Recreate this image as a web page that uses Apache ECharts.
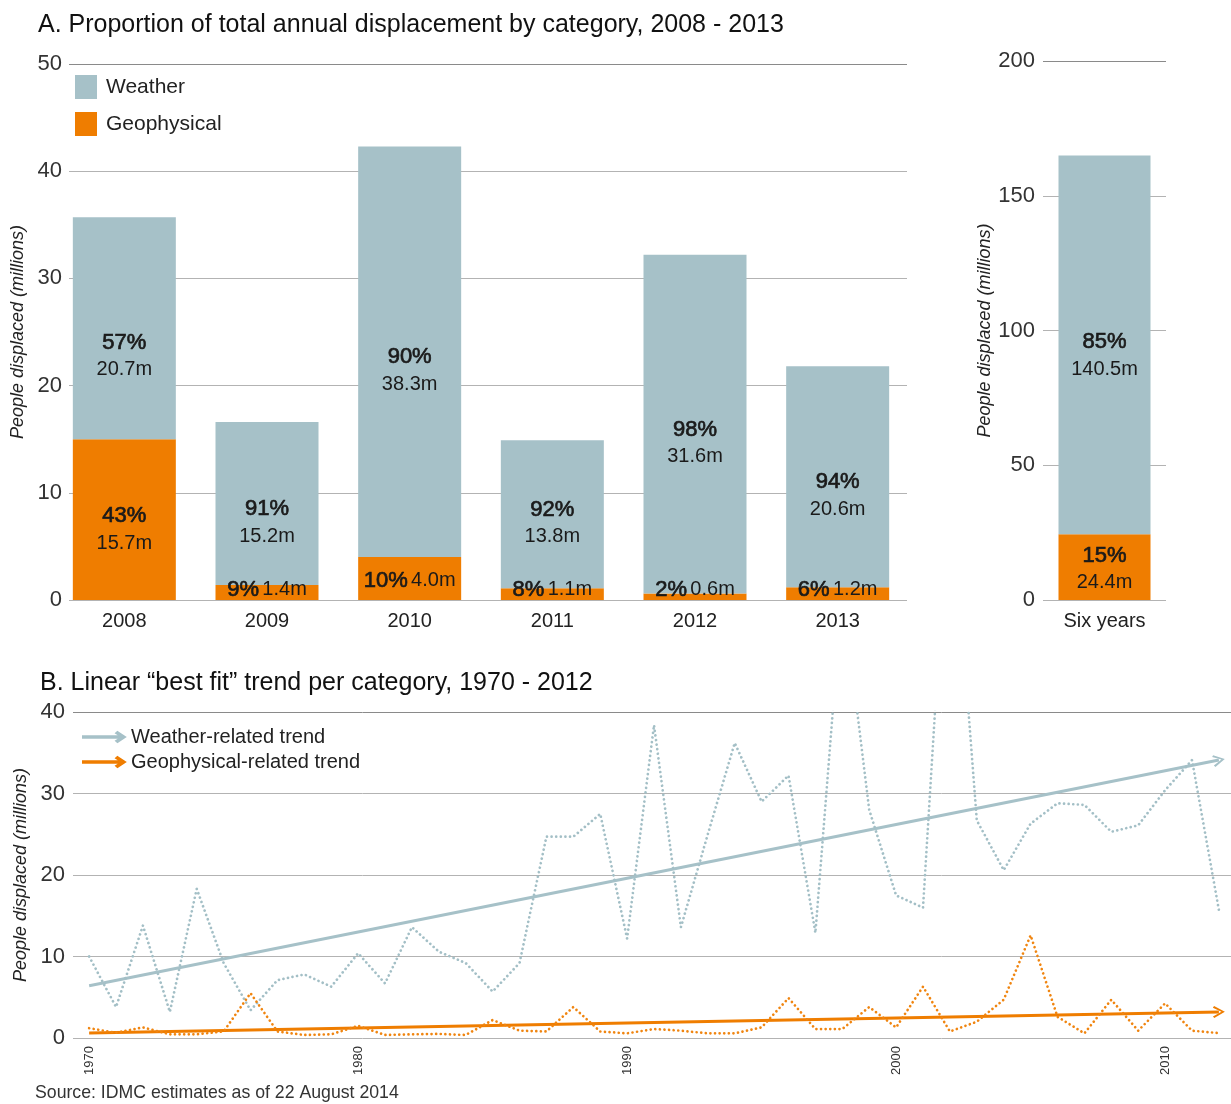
<!DOCTYPE html>
<html>
<head>
<meta charset="utf-8">
<script src="https://cdn.jsdelivr.net/npm/echarts@6/dist/echarts.min.js"></script>
<style>
html,body{margin:0;padding:0;background:#fff;}
#chart{width:1231px;height:1104px;}
</style>
</head>
<body>
<div id="chart"></div>
<script>
// ---------- Panel A data ----------
const yearsA = ['2008', '2009', '2010', '2011', '2012', '2013'];
const weatherA = [20.7, 15.2, 38.3, 13.8, 31.6, 20.6];
const geoA = [15.0, 1.4, 4.0, 1.1, 0.6, 1.2];
const weatherPctA = ['57%', '91%', '90%', '92%', '98%', '94%'];
const weatherAmtA = ['20.7m', '15.2m', '38.3m', '13.8m', '31.6m', '20.6m'];
const geoPctA = ['43%', '9%', '10%', '8%', '2%', '6%'];
const geoAmtA = ['15.7m', '1.4m', '4.0m', '1.1m', '0.6m', '1.2m'];

// ---------- Six-year totals ----------
const sixCategory = ['Six years'];
const weatherSix = [140.5];
const geoSix = [24.4];
const weatherSixPct = ['85%'];
const weatherSixAmt = ['140.5m'];
const geoSixPct = ['15%'];
const geoSixAmt = ['24.4m'];

// ---------- Panel B data ----------
const yearsB = [1970, 1971, 1972, 1973, 1974, 1975, 1976, 1977, 1978, 1979,
  1980, 1981, 1982, 1983, 1984, 1985, 1986, 1987, 1988, 1989,
  1990, 1991, 1992, 1993, 1994, 1995, 1996, 1997, 1998, 1999,
  2000, 2001, 2002, 2003, 2004, 2005, 2006, 2007, 2008, 2009,
  2010, 2011, 2012];
const weatherB = [10.0, 3.8, 13.8, 3.2, 18.3, 9.2, 3.4, 7.1, 7.8, 6.3,
  10.4, 6.7, 13.6, 10.6, 9.2, 5.7, 9.2, 24.7, 24.7, 27.5,
  12.2, 38.4, 13.6, 25.0, 36.2, 29.0, 32.2, 12.9, 55.0, 28.0,
  17.5, 16.0, 70.0, 26.7, 20.6, 26.3, 28.8, 28.6, 25.3, 26.1,
  30.4, 34.1, 15.7];
const geoB = [1.2, 0.65, 1.3, 0.45, 0.45, 0.8, 5.5, 0.8, 0.37, 0.45,
  1.5, 0.37, 0.45, 0.5, 0.37, 2.2, 0.9, 0.8, 3.8, 0.8,
  0.57, 1.1, 0.9, 0.57, 0.57, 1.3, 4.9, 1.1, 1.1, 3.8,
  1.3, 6.3, 0.8, 2.0, 4.7, 12.6, 2.6, 0.57, 4.7, 0.9,
  4.25, 0.9, 0.6];
const weatherTrend = [[1970, 6.4], [2012, 34.1]];
const geoTrend = [[1970, 0.6], [2012, 3.2]];
const tickYearsB = [1970, 1980, 1990, 2000, 2010];

// ---------- styles / layout (not data) ----------
const FONT = 'Liberation Sans';
const C_WEATHER = '#a6c1c8';
const C_GEO = '#ef7d00';
const C_TEXT = '#1a1a1a';
const GRID_COLOR = '#b3b3b3';
const TOP_GRID_COLOR = '#8a8a8a';
const weatherLabelNudgeA = [9, 0, 0, -10, 0, 0];

const rich = {
  p: { fontFamily: FONT, fontSize: 22, color: C_TEXT, textBorderColor: C_TEXT, textBorderWidth: 0.7, lineHeight: 27 },
  m: { fontFamily: FONT, fontSize: 20, color: C_TEXT, lineHeight: 27 }
};

function twoLine(p, m) { return '{p|' + p + '}\n{m|' + m + '}'; }
function oneLine(p, m) { return '{p|' + p + '} {m|' + m + '}'; }

const weatherAData = weatherA.map(function (v, i) {
  return { value: v, label: { show: true, position: 'inside', offset: [0, 19 + weatherLabelNudgeA[i]], rich: rich,
    formatter: twoLine(weatherPctA[i], weatherAmtA[i]) } };
});
const geoAData = geoA.map(function (v, i) {
  let lab;
  if (v >= 10) {
    lab = { show: true, position: 'inside', offset: [0, 10], rich: rich, formatter: twoLine(geoPctA[i], geoAmtA[i]) };
  } else if (v >= 3) {
    lab = { show: true, position: 'inside', offset: [0, 2], rich: rich, formatter: oneLine(geoPctA[i], geoAmtA[i]) };
  } else {
    lab = { show: true, position: 'insideBottom', distance: 1, offset: [0, 4], rich: rich, formatter: oneLine(geoPctA[i], geoAmtA[i]) };
  }
  return { value: v, label: lab };
});
const weatherSixData = weatherSix.map(function (v, i) {
  return { value: v, label: { show: true, position: 'inside', offset: [0, 11], rich: rich,
    formatter: twoLine(weatherSixPct[i], weatherSixAmt[i]) } };
});
const geoSixData = geoSix.map(function (v, i) {
  return { value: v, label: { show: true, position: 'inside', offset: [0, 2], rich: rich,
    formatter: twoLine(geoSixPct[i], geoSixAmt[i]) } };
});

const axisNameStyle = { fontFamily: FONT, fontSize: 18, fontStyle: 'italic', color: '#222' };
const axisLabelStyle = { fontFamily: FONT, fontSize: 22, color: '#333' };

function splitColors(n) {
  const arr = [];
  for (let i = 0; i < n; i++) arr.push(i === n - 1 ? TOP_GRID_COLOR : GRID_COLOR);
  return arr;
}

const arrowPath = 'path://M0,10 L6,0 L12,10 L10.4,11.2 L6,3.2 L1.6,11.2 Z';
const legendArrow = 'path://M0,4.2 L40,4.2 L40,5.8 L0,5.8 Z M34.5,0 L42,5 L34.5,10 L33.2,8.8 L39.2,5 L33.2,1.2 Z';

const chart = echarts.init(document.getElementById('chart'), null, { renderer: 'canvas' });

const option = {
  animation: false,
  backgroundColor: '#fff',
  textStyle: { fontFamily: FONT },
  title: [
    { text: 'A. Proportion of total annual displacement by category, 2008 - 2013', left: 38, top: 13, padding: 0,
      textStyle: { fontFamily: FONT, fontSize: 25, fontWeight: 'normal', color: '#111' } },
    { text: 'B. Linear \u201cbest fit\u201d trend per category, 1970 - 2012', left: 40, top: 671, padding: 0,
      textStyle: { fontFamily: FONT, fontSize: 25, fontWeight: 'normal', color: '#111' } }
  ],
  legend: [
    { data: ['Weather', 'Geophysical'], orient: 'vertical', left: 75, top: 75, padding: 0,
      itemWidth: 22, itemHeight: 24, itemGap: 13, icon: 'rect',
      textStyle: { fontFamily: FONT, fontSize: 21, color: '#222', padding: [2, 0, 0, 4] } },
    { data: ['Weather-related trend', 'Geophysical-related trend'], orient: 'vertical', left: 82, top: 727, padding: 0,
      itemWidth: 44, itemHeight: 10, itemGap: 5, icon: legendArrow,
      textStyle: { fontFamily: FONT, fontSize: 20, color: '#222', lineHeight: 20 } }
  ],
  grid: [
    { left: 53, top: 64, width: 856, height: 536, outerBoundsMode: 'none', containLabel: false },
    { left: 69, top: 64, width: 838, height: 536, outerBoundsMode: 'none', containLabel: false },
    { left: 1043, top: 61, width: 123, height: 539, outerBoundsMode: 'none', containLabel: false },
    { left: 73, top: 712, width: 1158, height: 326, outerBoundsMode: 'none', containLabel: false }
  ],
  xAxis: [
    { type: 'category', gridIndex: 0, data: yearsA,
      axisLine: { show: false }, axisTick: { show: false },
      axisLabel: { fontFamily: FONT, fontSize: 20, color: '#222', margin: 11 } },
    { type: 'value', gridIndex: 1, show: false, min: 0, max: 1 },
    { type: 'category', gridIndex: 2, data: sixCategory,
      axisLine: { show: false }, axisTick: { show: false },
      axisLabel: { fontFamily: FONT, fontSize: 20, color: '#222', margin: 11 } },
    { type: 'value', gridIndex: 3, min: 1969.4, max: 2012.45,
      axisLine: { show: false }, axisTick: { show: false }, splitLine: { show: false },
      axisLabel: { customValues: tickYearsB, rotate: 90, fontFamily: FONT, fontSize: 13, color: '#333', margin: 8,
        formatter: function (v) { return String(Math.round(v)); } } }
  ],
  yAxis: [
    { type: 'value', gridIndex: 0, min: 0, max: 50, interval: 10, show: false },
    { type: 'value', gridIndex: 1, min: 0, max: 50, interval: 10,
      name: 'People displaced (millions)', nameLocation: 'middle', nameGap: 39, nameTextStyle: axisNameStyle,
      axisLine: { show: false }, axisTick: { show: false },
      axisLabel: Object.assign({ margin: 7 }, axisLabelStyle),
      splitLine: { lineStyle: { color: splitColors(6), width: 1 } } },
    { type: 'value', gridIndex: 2, min: 0, max: 200, interval: 50,
      name: 'People displaced (millions)', nameLocation: 'middle', nameGap: 49, nameTextStyle: axisNameStyle,
      axisLine: { show: false }, axisTick: { show: false },
      axisLabel: Object.assign({ margin: 8 }, axisLabelStyle),
      splitLine: { lineStyle: { color: splitColors(5), width: 1 } } },
    { type: 'value', gridIndex: 3, min: 0, max: 40, interval: 10,
      name: 'People displaced (millions)', nameLocation: 'middle', nameGap: 43, nameTextStyle: axisNameStyle,
      axisLine: { show: false }, axisTick: { show: false },
      axisLabel: Object.assign({ margin: 8 }, axisLabelStyle),
      splitLine: { lineStyle: { color: splitColors(5), width: 1 } } }
  ],
  series: [
    { name: 'Geophysical', type: 'bar', xAxisIndex: 0, yAxisIndex: 0, stack: 'a', barWidth: 103,
      itemStyle: { color: C_GEO }, data: geoAData },
    { name: 'Weather', type: 'bar', xAxisIndex: 0, yAxisIndex: 0, stack: 'a', barWidth: 103,
      itemStyle: { color: C_WEATHER }, data: weatherAData },
    { name: 'Geophysical', type: 'bar', xAxisIndex: 2, yAxisIndex: 2, stack: 'b', barWidth: 92,
      itemStyle: { color: C_GEO }, data: geoSixData },
    { name: 'Weather', type: 'bar', xAxisIndex: 2, yAxisIndex: 2, stack: 'b', barWidth: 92,
      itemStyle: { color: C_WEATHER }, data: weatherSixData },
    { name: 'Weather annual', type: 'line', xAxisIndex: 3, yAxisIndex: 3, symbol: 'none', clip: true,
      lineStyle: { color: '#a3bfc6', width: 2.7, type: [0.01, 4.6], cap: 'round' },
      data: yearsB.map(function (y, i) { return [y, weatherB[i]]; }) },
    { name: 'Geophysical annual', type: 'line', xAxisIndex: 3, yAxisIndex: 3, symbol: 'none', clip: true,
      lineStyle: { color: '#f08510', width: 2.7, type: [0.01, 4.6], cap: 'round' },
      data: yearsB.map(function (y, i) { return [y, geoB[i]]; }) },
    { name: 'Weather-related trend', type: 'lines', coordinateSystem: 'cartesian2d', xAxisIndex: 3, yAxisIndex: 3,
      color: C_WEATHER, symbol: ['none', arrowPath], symbolSize: 12,
      lineStyle: { color: C_WEATHER, width: 3, opacity: 1 },
      data: [{ coords: weatherTrend }] },
    { name: 'Geophysical-related trend', type: 'lines', coordinateSystem: 'cartesian2d', xAxisIndex: 3, yAxisIndex: 3,
      color: C_GEO, symbol: ['none', arrowPath], symbolSize: 12,
      lineStyle: { color: C_GEO, width: 3, opacity: 1 },
      data: [{ coords: geoTrend }] }
  ],
  graphic: [
    { type: 'text', left: 35, top: 1084,
      style: { text: 'Source: IDMC estimates as of 22 August 2014', font: '17.7px "Liberation Sans"', fill: '#333' } }
  ]
};
chart.setOption(option);
</script>
</body>
</html>
